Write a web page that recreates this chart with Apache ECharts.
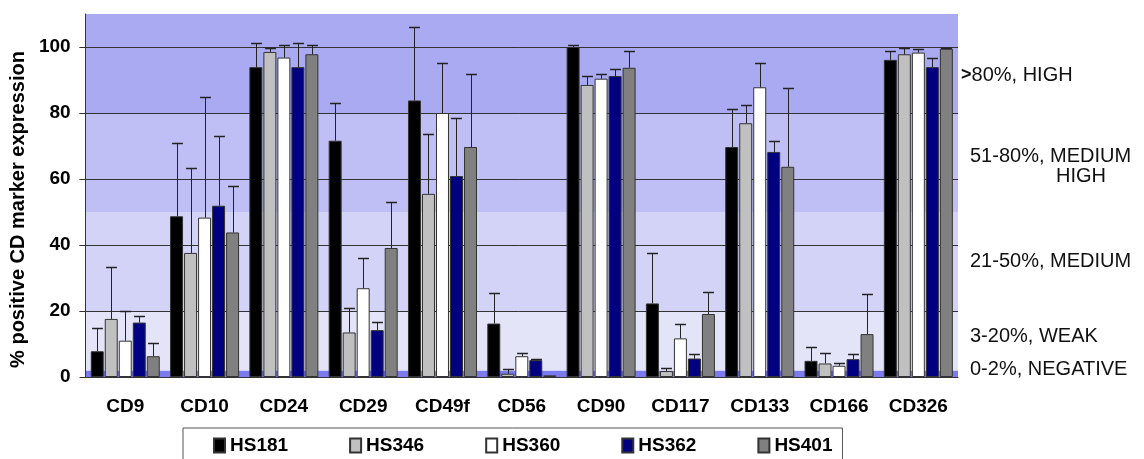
<!DOCTYPE html>
<html>
<head>
<meta charset="utf-8">
<script src="https://cdn.jsdelivr.net/npm/echarts@6/dist/echarts.min.js"></script>
<style>
  html, body { margin: 0; padding: 0; background: #fff; }
  #chart { width: 1144px; height: 459px; }
</style>
</head>
<body>
<div id="chart"></div>
<script>
// Surface markers on five cell lines
const categories = ['CD9', 'CD10', 'CD24', 'CD29', 'CD49f', 'CD56', 'CD90', 'CD117', 'CD133', 'CD166', 'CD326'];
const seriesNames = ['HS181', 'HS346', 'HS360', 'HS362', 'HS401'];

// Mean % positive cells per marker
const hs181 = [7.8, 48.7, 93.9, 71.6, 83.8, 16.2, 100.0, 22.3, 69.7, 4.9, 96.1];
const hs346 = [17.6, 37.6, 98.5, 13.5, 55.5, 1.0, 88.5, 1.8, 76.9, 4.1, 97.8];
const hs360 = [11.0, 48.3, 96.8, 26.9, 80.0, 6.3, 90.4, 11.7, 87.8, 3.4, 98.3];
const hs362 = [16.5, 51.9, 93.9, 14.2, 60.9, 5.1, 91.2, 5.6, 68.2, 5.4, 93.9];
const hs401 = [6.3, 43.8, 97.8, 39.1, 69.7, 0.5, 93.7, 19.1, 63.7, 13.0, 99.5];

// Upper end of the error bars (mean + SD)
const hs181Err = [14.7, 70.9, 101.2, 83.1, 106.1, 25.6, 100.7, 37.6, 81.2, 9.1, 98.7];
const hs346Err = [33.4, 63.2, 99.8, 20.9, 73.6, 2.5, 91.2, 2.7, 82.4, 7.3, 99.7];
const hs360Err = [20.0, 85.0, 100.7, 36.2, 95.1, 7.4, 91.9, 16.2, 95.1, 4.3, 99.5];
const hs362Err = [18.5, 73.1, 101.2, 16.6, 78.5, 5.6, 93.4, 7.1, 71.5, 7.1, 96.6];
const hs401Err = [10.2, 57.9, 100.7, 53.0, 91.9, 0.5, 98.7, 25.8, 87.5, 25.2, 99.7];

const yTicks = [0, 20, 40, 60, 80, 100];

// Expression-level bands: [from, to]
const bandRanges = [[0, 2], [2, 20], [20, 50], [50, 80], [80, 110]];
const bandColors = ['#7b7bef', '#e4e4f9', '#d3d3f7', '#bfbff5', '#aaaaf3'];

const barColors = ['#000000', '#c0c0c0', '#ffffff', '#000080', '#808080'];
const means = [hs181, hs346, hs360, hs362, hs401];
const errs = [hs181Err, hs346Err, hs360Err, hs362Err, hs401Err];

const CAT_GAP = 0.13;
const BAR_GAP = 0.08;

const errData = [];
means.forEach((arr, s) => {
  arr.forEach((v, c) => errData.push([c, v, errs[s][c], s]));
});

const bandData = bandRanges.map((r, i) => ({ value: [0, r[0], r[1]], itemStyle: { color: bandColors[i] } }));
const gridData = yTicks.filter(v => v > 0).map(v => [0, v]);

const chart = echarts.init(document.getElementById('chart'), null, { renderer: 'canvas' });

const boldFont = '"Liberation Sans", Arial, sans-serif';
const plainFont = '20px "Liberation Sans", Arial, sans-serif';

const option = {
  animation: false,
  backgroundColor: '#ffffff',
  grid: { left: 85, right: 186, top: 14, bottom: 82, containLabel: false },
  xAxis: {
    type: 'category',
    data: categories,
    axisLine: { show: true, lineStyle: { color: '#333', width: 1 } },
    axisTick: { show: false },
    axisLabel: { margin: 20, color: '#000', fontFamily: boldFont, fontWeight: 'bold', fontSize: 19 }
  },
  yAxis: {
    type: 'value',
    min: 0,
    max: 110,
    interval: 10,
    name: '% positive CD marker expression',
    nameLocation: 'middle',
    nameRotate: 90,
    nameGap: 52,
    nameTextStyle: { color: '#000', fontFamily: boldFont, fontWeight: 'bold', fontSize: 20, padding: [0, 28, 0, 0] },
    axisLine: { show: true, lineStyle: { color: '#333', width: 1 } },
    axisTick: { show: true, length: 6, lineStyle: { color: '#333' }, customValues: yTicks },
    axisLabel: { color: '#000', fontFamily: boldFont, fontWeight: 'bold', fontSize: 19, margin: 15, customValues: yTicks },
    splitLine: { show: false }
  },
  legend: {
    data: seriesNames,
    left: 183,
    top: 428,
    orient: 'horizontal',
    icon: 'rect',
    itemWidth: 11,
    itemHeight: 14,
    itemGap: 61,
    padding: [8, 10, 12, 30],
    borderColor: '#555',
    borderWidth: 1,
    backgroundColor: '#fff',
    textStyle: { color: '#000', fontFamily: boldFont, fontWeight: 'bold', fontSize: 19 }
  },
  graphic: [
    { type: 'text', left: 961, top: 65, style: { text: '{a|>}80%, HIGH', fill: '#111', font: plainFont, rich: { a: { fontWeight: 'bold', fontSize: 18, fill: '#111', fontFamily: boldFont } } } },
    { type: 'text', left: 970, top: 146, style: { text: '51-80%, MEDIUM', fill: '#111', font: plainFont } },
    { type: 'text', left: 1056, top: 166, style: { text: 'HIGH', fill: '#111', font: plainFont } },
    { type: 'text', left: 970, top: 251, style: { text: '21-50%, MEDIUM', fill: '#111', font: plainFont } },
    { type: 'text', left: 970, top: 326, style: { text: '3-20%, WEAK', fill: '#111', font: plainFont } },
    { type: 'text', left: 970, top: 359, style: { text: '0-2%, NEGATIVE', fill: '#111', font: plainFont } }
  ],
  series: [
    {
      // shaded expression bands
      type: 'custom',
      name: 'bands',
      z: 0,
      silent: true,
      encode: { x: 0, y: [1, 2] },
      data: bandData,
      renderItem: function (params, api) {
        const cs = params.coordSys;
        const yTop = api.coord([0, api.value(2)])[1];
        const yBot = api.coord([0, api.value(1)])[1];
        return {
          type: 'rect',
          shape: { x: cs.x, y: yTop, width: cs.width, height: yBot - yTop },
          style: { fill: api.visual('color') }
        };
      }
    },
    {
      // horizontal gridlines
      type: 'custom',
      name: 'grid',
      z: 1,
      silent: true,
      encode: { x: 0, y: 1 },
      data: gridData,
      renderItem: function (params, api) {
        const cs = params.coordSys;
        const y = Math.round(api.coord([0, api.value(1)])[1]) + 0.5;
        return {
          type: 'line',
          shape: { x1: cs.x - 6, y1: y, x2: cs.x + cs.width, y2: y },
          style: { stroke: '#333', lineWidth: 1 }
        };
      }
    },
    ...seriesNames.map((name, i) => ({
      name: name,
      type: 'bar',
      z: 3,
      data: means[i],
      barGap: (BAR_GAP * 100) + '%',
      barCategoryGap: (CAT_GAP * 100) + '%',
      itemStyle: { color: barColors[i], borderColor: '#333', borderWidth: 1 }
    })),
    {
      // upward error bars
      type: 'custom',
      name: 'err',
      z: 4,
      silent: true,
      encode: { x: 0, y: [1, 2] },
      data: errData,
      renderItem: function (params, api) {
        const c = api.value(0);
        const s = api.value(3);
        const catW = api.size([1, 0])[0];
        const usable = catW * (1 - CAT_GAP);
        const bw = usable / (5 + 4 * BAR_GAP);
        const cx = api.coord([c, 0])[0] - usable / 2 + s * bw * (1 + BAR_GAP) + bw / 2;
        const x = Math.round(cx) + 0.5;
        const yMean = api.coord([c, api.value(1)])[1];
        const yTop = Math.round(api.coord([c, api.value(2)])[1]) + 0.5;
        const cap = bw * 0.42;
        if (api.value(2) <= api.value(1)) return null;
        return {
          type: 'group',
          children: [
            { type: 'line', shape: { x1: x, y1: yMean, x2: x, y2: yTop }, style: { stroke: '#222', lineWidth: 1 } },
            { type: 'line', shape: { x1: x - cap, y1: yTop, x2: x + cap, y2: yTop }, style: { stroke: '#222', lineWidth: 1.5 } }
          ]
        };
      }
    }
  ]
};

chart.setOption(option);
</script>
</body>
</html>
